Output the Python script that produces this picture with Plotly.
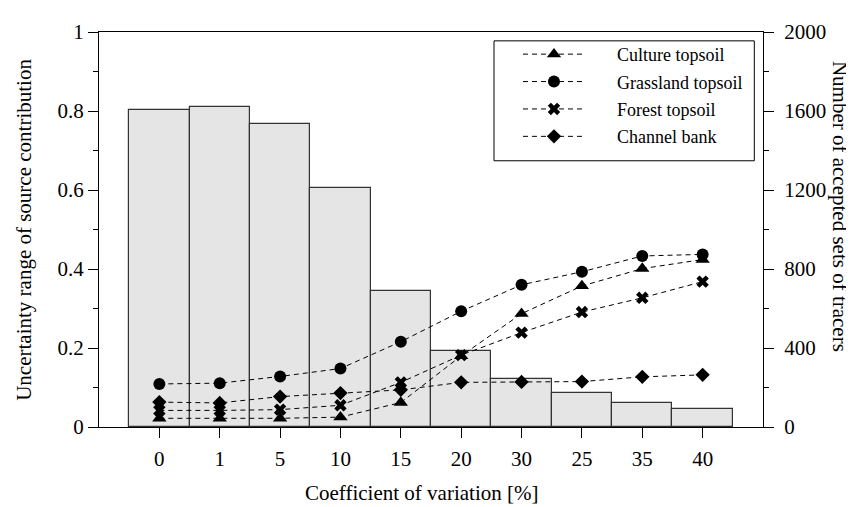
import plotly.graph_objects as go

cv_labels = ["0", "1", "5", "10", "15", "20", "30", "25", "35", "40"]
accepted_sets = [1605, 1622, 1536, 1212, 687, 387, 244, 171, 124, 91]
culture = [0.022, 0.022, 0.022, 0.025, 0.062, 0.180, 0.287, 0.357, 0.401, 0.424]
grassland = [0.109, 0.111, 0.128, 0.148, 0.216, 0.293, 0.360, 0.393, 0.433, 0.437]
forest = [0.042, 0.042, 0.044, 0.055, 0.113, 0.182, 0.239, 0.291, 0.327, 0.368]
channel = [0.063, 0.061, 0.077, 0.086, 0.094, 0.113, 0.114, 0.115, 0.127, 0.132]

series = [
    ("Culture topsoil", culture, "triangle-up", 12.5),
    ("Grassland topsoil", grassland, "circle", 12),
    ("Forest topsoil", forest, "x", 11),
    ("Channel bank", channel, "diamond", 11),
]

FONT = "Liberation Serif, Times New Roman, serif"
NB = "\u00a0"

fig = go.Figure()
fig.add_trace(go.Bar(
    x=cv_labels, y=accepted_sets, width=1.0, yaxis="y",
    marker=dict(color="rgb(229,229,229)", line=dict(color="#333333", width=1.2)),
    showlegend=False,
))
for i, (name, vals, sym, sz) in enumerate(series):
    fig.add_trace(go.Scatter(
        x=cv_labels, y=vals, yaxis="y2", mode="lines+markers",
        name=NB * 6 + name, legendgroup=f"g{i}",
        line=dict(color="black", width=1, dash="5px,4px"),
        marker=dict(symbol=sym, size=sz, color="black", line=dict(width=0)),
    ))

axis_common = dict(
    showline=True, linecolor="black", linewidth=1, ticks="outside", ticklen=10,
    tickcolor="black", tickwidth=1, showgrid=False, zeroline=False,
    tickfont=dict(family=FONT, size=21, color="black"),
)

fig.update_layout(
    width=846, height=499,
    margin=dict(l=91, r=91, t=17, b=80),
    paper_bgcolor="white", plot_bgcolor="white",
    font=dict(family=FONT, size=21, color="black"),
    bargap=0,
    xaxis=dict(
        type="category", range=[-1, 10], mirror=True,
        ticklabelstandoff=3, **axis_common,
    ),
    yaxis=dict(
        side="right", range=[0, 2000], tickvals=[0, 400, 800, 1200, 1600, 2000],
        minor=dict(dtick=200, ticks="outside", ticklen=5, tickcolor="black"),
        ticklabelstandoff=6, **axis_common,
    ),
    yaxis2=dict(
        side="left", overlaying="y", range=[0, 1],
        tickvals=[0, 0.2, 0.4, 0.6, 0.8, 1], ticktext=["0", "0.2", "0.4", "0.6", "0.8", "1"],
        minor=dict(dtick=0.1, ticks="outside", ticklen=5, tickcolor="black"),
        ticklabelstandoff=0, **axis_common,
    ),
    legend=dict(
        x=0.631, y=0.990, xanchor="left", yanchor="top",
        bgcolor="rgba(0,0,0,0)", borderwidth=0,
        font=dict(family=FONT, size=18, color="black"),
        itemwidth=62, tracegroupgap=1, traceorder="grouped",
    ),
    shapes=[
        dict(type="rect", xref="paper", yref="paper", x0=0.5949, x1=0.9869, y0=0.674, y1=0.9776,
             line=dict(color="black", width=1), fillcolor="white", layer="above"),
    ],
    annotations=[
        dict(text="Coefficient of variation [%]", xref="paper", yref="paper",
             x=0.486, y=-0.168, xanchor="center", yanchor="middle", showarrow=False,
             font=dict(family=FONT, size=21, color="black")),
        dict(text="Uncertainty range of source contribution", xref="paper", yref="paper",
             x=-0.114, y=0.5, xanchor="center", yanchor="middle", showarrow=False, textangle=-90,
             font=dict(family=FONT, size=21, color="black")),
        dict(text="Number of accepted sets of tracers", xref="paper", yref="paper",
             x=1.117, y=0.558, xanchor="center", yanchor="middle", showarrow=False, textangle=90,
             font=dict(family=FONT, size=21, color="black")),
    ],
)

fig.write_html("out.html")
